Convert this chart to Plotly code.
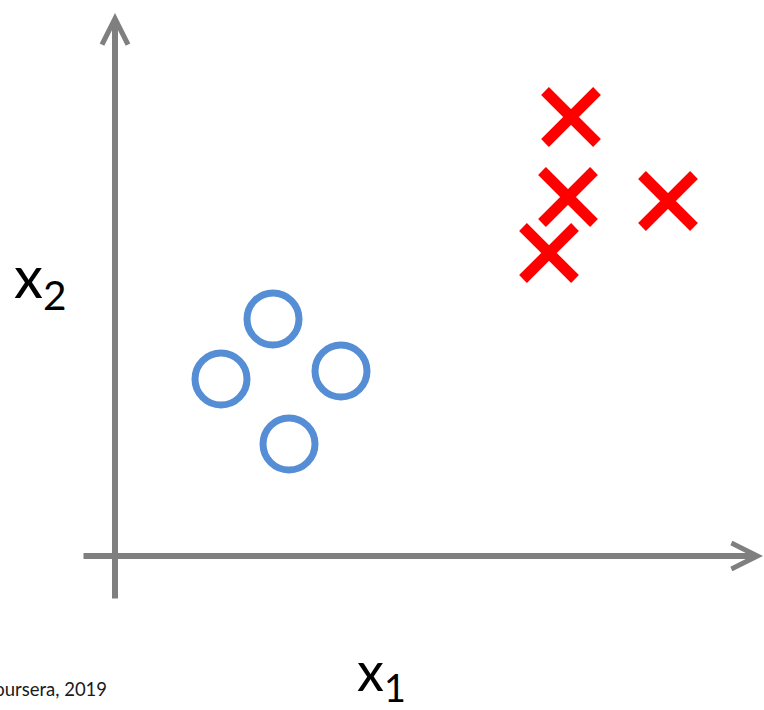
import plotly.graph_objects as go

# Sample points in feature space (x1, x2), axis units
circle_x1 = [158, 106, 226, 174]
circle_x2 = [237, 177, 185, 112]
cross_x1 = [456, 453, 553, 434]
cross_x2 = [439, 359, 355, 303]

label_x1 = "x<sub>1</sub>"
label_x2 = "x<sub>2</sub>"
credit = "Coursera, 2019"

W, H = 764, 710
x_range = [-115, 649]
y_range = [-154, 556]
x_axis_span = [-33, 648]
y_axis_span = [-44, 543]

BLUE = "#558ED5"
RED = "#FF0000"
GRAY = "#7F7F7F"
FONT = "Lato"

fig = go.Figure()
fig.add_trace(go.Scatter(
    x=circle_x1, y=circle_x2, mode="markers", hoverinfo="skip",
    marker=dict(symbol="circle-open", size=52, color=BLUE,
                line=dict(width=7, color=BLUE))))
fig.add_trace(go.Scatter(
    x=cross_x1, y=cross_x2, mode="markers", hoverinfo="skip",
    marker=dict(symbol="x-thin", size=52, color=RED,
                line=dict(width=11, color=RED))))

# axes drawn as arrows
for (x, y, ax, ay) in [(x_axis_span[1], 0, x_axis_span[0], 0),
                       (0, y_axis_span[1], 0, y_axis_span[0])]:
    fig.add_annotation(x=x, y=y, ax=ax, ay=ay,
                       xref="x", yref="y", axref="x", ayref="y", text="",
                       showarrow=True, arrowhead=5, arrowsize=0.85, arrowwidth=6,
                       arrowcolor=GRAY, standoff=0, startstandoff=0)

def px(xp):
    return xp / W

def py(yp):
    return 1 - yp / H

fig.add_annotation(x=px(12), y=py(280), xref="paper", yref="paper",
                   text=label_x2, showarrow=False, xanchor="left", yanchor="middle",
                   font=dict(family=FONT, size=58, color="black"))
fig.add_annotation(x=px(355), y=py(674), xref="paper", yref="paper",
                   text=label_x1, showarrow=False, xanchor="left", yanchor="middle",
                   font=dict(family=FONT, size=54, color="black"))
fig.add_annotation(x=px(109), y=py(689), xref="paper", yref="paper",
                   text=credit, showarrow=False, xanchor="right", yanchor="middle",
                   font=dict(family=FONT, size=18.5, color="#1a1a1a"))

fig.update_layout(
    width=W, height=H, margin=dict(l=0, r=0, t=0, b=0),
    paper_bgcolor="white", plot_bgcolor="white", showlegend=False,
    xaxis=dict(visible=False, range=x_range, fixedrange=True),
    yaxis=dict(visible=False, range=y_range, fixedrange=True),
)

fig.write_html("out.html", config={"displayModeBar": False, "staticPlot": True},
               post_script="document.body.style.margin='0';document.body.style.overflow='hidden';")
